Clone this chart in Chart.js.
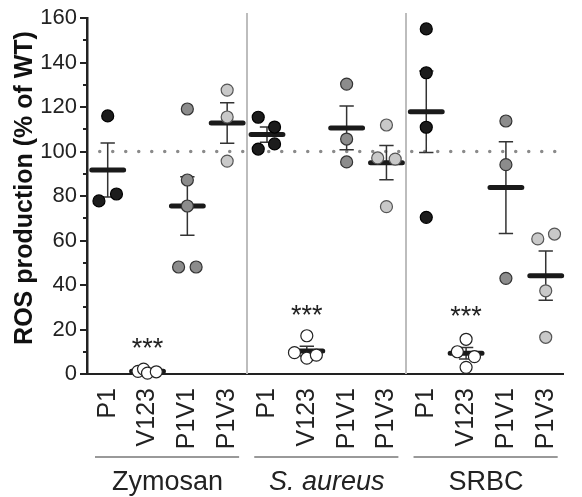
<!DOCTYPE html>
<html>
<head>
<meta charset="utf-8">
<script src="https://cdn.jsdelivr.net/npm/chart.js@4.4.1/dist/chart.umd.min.js"></script>
<style>
	html, body { margin: 0; padding: 0; background: #fff; }
	canvas { display: block; }
</style>
</head>
<body>
<canvas id="rosChart" width="582" height="497"></canvas>
<script>

var groups = ['Zymosan', 'S. aureus', 'SRBC'];
var strains = ['P1', 'V123', 'P1V1', 'P1V3'];

// individual points, one list per group (Zymosan, S. aureus, SRBC)
var valsP1   = [[116.0, 77.8, 80.9], [115.4, 111.0, 103.4, 101.1], [155.1, 135.4, 110.9, 70.4]];
var valsV123 = [[1.2, 2.2, 0.4, 1.0], [17.2, 9.6, 7.1, 8.5], [15.6, 10.0, 7.8, 3.0]];
var valsP1V1 = [[119.1, 87.2, 75.5, 48.1, 48.1], [130.3, 105.6, 95.3], [113.7, 94.1, 43.0]];
var valsP1V3 = [[127.6, 115.5, 95.7], [111.9, 97.1, 96.6, 75.2], [60.7, 62.9, 37.4, 16.5]];

// horizontal scatter of the dots (category units)
var jitP1   = [[0, -0.22, 0.22], [-0.22, 0.19, 0.19, -0.22], [0, 0, 0, 0]];
var jitV123 = [[-0.24, -0.1, 0, 0.22], [0, -0.31, 0, 0.24], [0, -0.22, 0.21, 0]];
var jitP1V1 = [[0, 0, 0, -0.22, 0.22], [0, 0, 0], [0, 0, 0]];
var jitP1V3 = [[0, 0, 0], [0, -0.22, 0.22, 0], [-0.2, 0.22, 0, 0]];

// mean and SEM, in column order
var means = [91.7, 1.2, 75.5, 112.8, 107.6, 10.3, 110.6, 95.0, 117.9, 9.3, 83.8, 44.2];
var sems  = [12.1, 0.5, 13.1, 9.1, 3.4, 2.2, 9.8, 7.7, 18.3, 2.6, 20.6, 11.1];

var sigLabels = ['***', '***', '***'];
var sigY = [14.5, 29.2, 28.7];

var refLine = 100;
var yTicks = [0, 20, 40, 60, 80, 100, 120, 140, 160];
var minorTicks = [10, 30, 50, 70, 90, 110, 130, 150];
var yTitle = 'ROS production (% of WT)';

var FONT = "'Liberation Sans', Arial, sans-serif";

function pointData(vals, jit, s){
	var out = [];
	for (var g = 0; g < vals.length; g++){
		for (var i = 0; i < vals[g].length; i++){
			out.push({x: g * 4 + s + jit[g][i], y: vals[g][i]});
		}
	}
	return out;
}

function meanData(){
	var out = [];
	for (var c = 0; c < means.length; c++){
		out.push({x: c - 0.4, y: means[c]});
		out.push({x: c + 0.4, y: means[c]});
		out.push({x: c, y: null});
	}
	return out;
}

function errorData(){
	var out = [];
	for (var c = 0; c < means.length; c++){
		var lo = means[c] - sems[c], hi = means[c] + sems[c];
		out.push({x: c, y: lo}, {x: c, y: hi}, {x: c, y: null});
		out.push({x: c - 0.18, y: hi}, {x: c + 0.18, y: hi}, {x: c, y: null});
		out.push({x: c - 0.18, y: lo}, {x: c + 0.18, y: lo}, {x: c, y: null});
	}
	return out;
}

var extras = {
	id: 'extras',
	beforeDatasetsDraw: function(chart){
		var ctx = chart.ctx, xs = chart.scales.x, a = chart.chartArea;
		ctx.save();
		ctx.strokeStyle = '#bdbdbd';
		ctx.lineWidth = 2;
		[3.5, 7.5].forEach(function(v){
			var px = Math.round(xs.getPixelForValue(v));
			ctx.beginPath();
			ctx.moveTo(px, a.top - 5);
			ctx.lineTo(px, a.bottom);
			ctx.stroke();
		});
		ctx.restore();
	},
	afterDraw: function(chart){
		var ctx = chart.ctx, xs = chart.scales.x, ys = chart.scales.y, a = chart.chartArea;
		ctx.save();

		// minor ticks on y
		ctx.strokeStyle = '#222';
		ctx.lineWidth = 2;
		minorTicks.forEach(function(v){
			var py = Math.round(ys.getPixelForValue(v));
			ctx.beginPath();
			ctx.moveTo(a.left - 4, py);
			ctx.lineTo(a.left, py);
			ctx.stroke();
		});

		// y title, sits a bit above the axis middle
		ctx.save();
		ctx.translate(25, 188);
		ctx.rotate(-Math.PI / 2);
		ctx.fillStyle = '#111';
		ctx.font = 'bold 25px ' + FONT;
		ctx.textAlign = 'center';
		ctx.textBaseline = 'middle';
		ctx.fillText(yTitle, 0, 0);
		ctx.restore();

		// significance stars
		ctx.fillStyle = '#222';
		ctx.font = '27px ' + FONT;
		ctx.textAlign = 'center';
		ctx.textBaseline = 'alphabetic';
		for (var g = 0; g < groups.length; g++){
			var cx = xs.getPixelForValue(g * 4 + 1);
			ctx.fillText(sigLabels[g], cx, ys.getPixelForValue(sigY[g]) + 15);
		}

		// group brackets and names
		ctx.strokeStyle = '#777';
		ctx.lineWidth = 1.5;
		for (var g = 0; g < groups.length; g++){
			var x0 = xs.getPixelForValue(g * 4 - 0.32);
			var x1 = Math.min(xs.getPixelForValue(g * 4 + 3.3), chart.width);
			ctx.beginPath();
			ctx.moveTo(x0, 457);
			ctx.lineTo(x1, 457);
			ctx.stroke();
			ctx.font = (groups[g] === 'S. aureus' ? 'italic ' : '') + '27px ' + FONT;
			ctx.fillText(groups[g], xs.getPixelForValue(g * 4 + 1.5), 490);
		}
		ctx.restore();
	}
};

function init_chart_ros(){

	if( typeof (Chart) === 'undefined'){ return; }

	var pointStyle = {
		pointRadius: 6,
		pointHoverRadius: 6,
		pointBorderWidth: 1.2,
		showLine: false,
		clip: false,
		order: 0
	};

	var datasets = [
		Object.assign({label: 'P1', data: pointData(valsP1, jitP1, 0),
			pointBackgroundColor: '#1c1c1c', pointBorderColor: '#000'}, pointStyle),
		Object.assign({label: 'V123', data: pointData(valsV123, jitV123, 1),
			pointBackgroundColor: '#ffffff', pointBorderColor: '#222'}, pointStyle),
		Object.assign({label: 'P1V1', data: pointData(valsP1V1, jitP1V1, 2),
			pointBackgroundColor: '#8c8c8c', pointBorderColor: '#333'}, pointStyle),
		Object.assign({label: 'P1V3', data: pointData(valsP1V3, jitP1V3, 3),
			pointBackgroundColor: '#c9c9c9', pointBorderColor: '#555'}, pointStyle),
		{
			label: 'mean',
			data: meanData(),
			showLine: true,
			spanGaps: false,
			borderColor: '#1a1a1a',
			borderWidth: 5,
			borderCapStyle: 'round',
			pointRadius: 0,
			clip: false,
			order: 1
		},
		{
			label: 'sem',
			data: errorData(),
			showLine: true,
			spanGaps: false,
			borderColor: '#333',
			borderWidth: 1.5,
			pointRadius: 0,
			clip: false,
			order: 2
		},
		{
			label: 'ref',
			data: [{x: -0.2, y: refLine}, {x: 11.44, y: refLine}],
			showLine: true,
			borderColor: '#8a8a8a',
			borderWidth: 3.5,
			borderDash: [0, 13],
			borderCapStyle: 'round',
			pointRadius: 0,
			order: 3
		}
	];

	var chart = new Chart(document.getElementById('rosChart'), {
		type: 'scatter',
		data: { datasets: datasets },
		options: {
			responsive: false,
			animation: false,
			layout: { padding: { top: 18, right: 0, left: 0, bottom: 0 } },
			plugins: { legend: { display: false }, tooltip: { enabled: false } },
			scales: {
				x: {
					type: 'linear',
					min: -0.52,
					max: 11.44,
					afterFit: function(scale){ scale.height = 123; },
					afterBuildTicks: function(scale){
						var t = [];
						for (var i = 0; i < 12; i++){ t.push({value: i}); }
						scale.ticks = t;
					},
					grid: { display: false },
					border: { display: true, color: '#222', width: 2 },
					ticks: {
						autoSkip: false,
						minRotation: 90,
						maxRotation: 90,
						padding: 6,
						color: '#222',
						font: { family: FONT, size: 25 },
						callback: function(v){ return strains[v % 4]; }
					}
				},
				y: {
					min: 0,
					max: 160,
					afterFit: function(scale){ scale.width = 87; },
					afterBuildTicks: function(scale){
						scale.ticks = yTicks.map(function(v){ return {value: v}; });
					},
					grid: { drawOnChartArea: false, tickLength: 7, color: '#222', lineWidth: 2 },
					border: { display: true, color: '#222', width: 2.5 },
					ticks: {
						padding: 3,
						color: '#222',
						font: { family: FONT, size: 22 }
					},
					title: { display: false }
				}
			}
		},
		plugins: [extras]
	});
}

init_chart_ros();
</script>
</body>
</html>
